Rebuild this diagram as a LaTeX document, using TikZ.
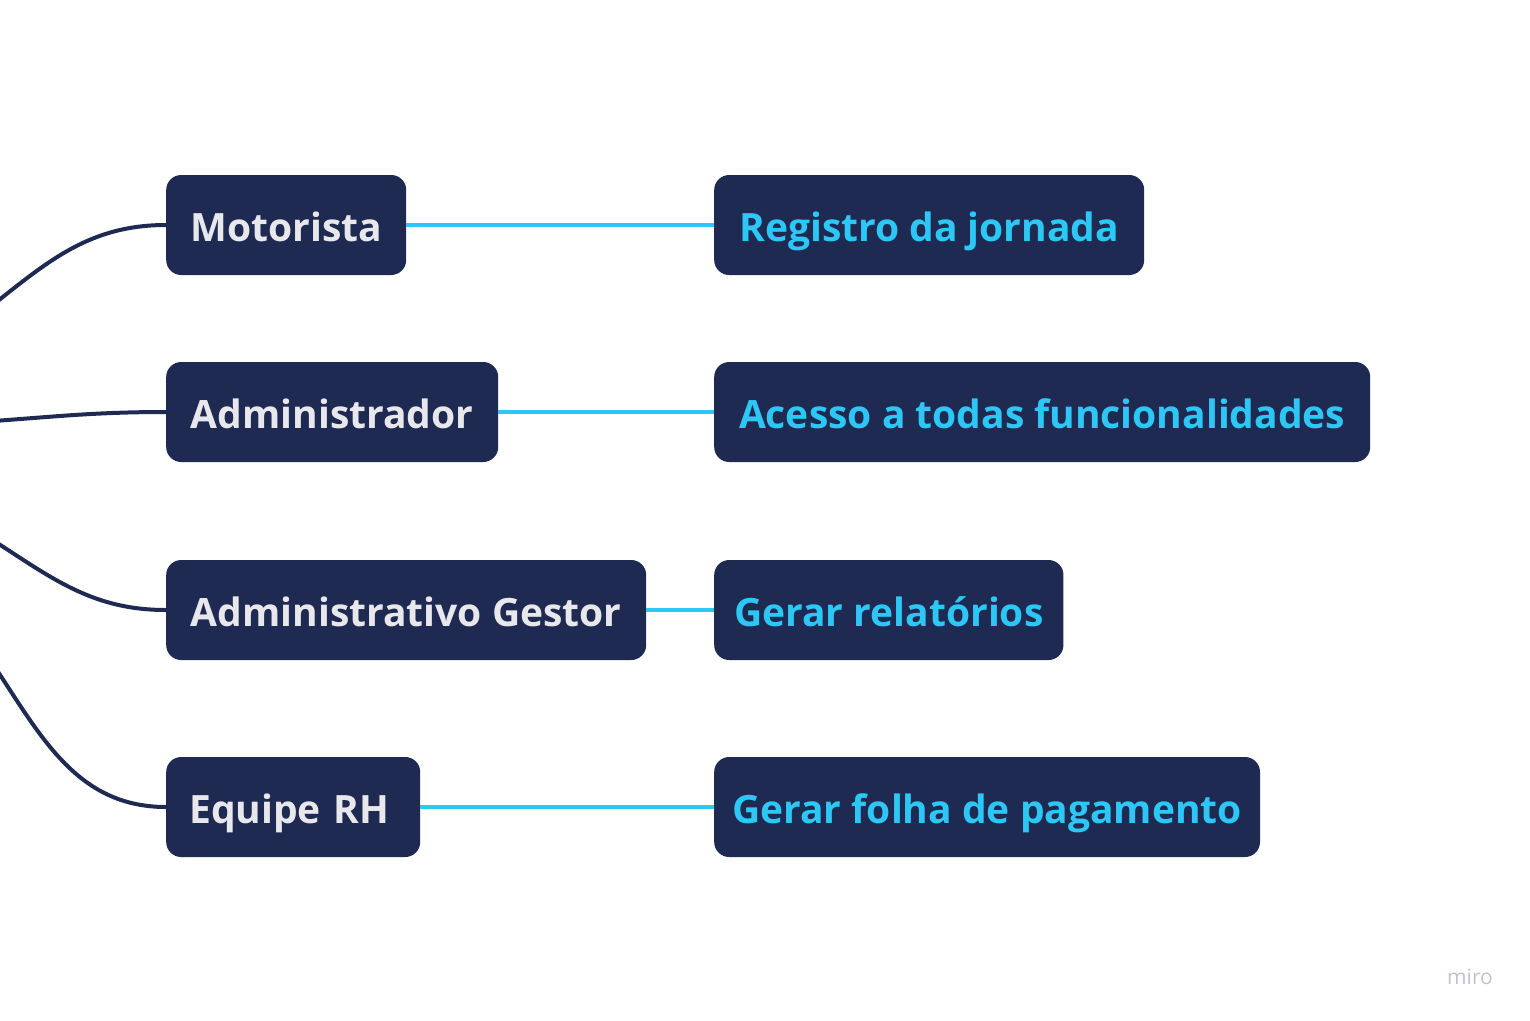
\documentclass[tikz,border=0pt]{standalone}
\usepackage{fontspec}
\setmainfont{Open Sans}
\definecolor{navy}{HTML}{1F2A52}
\definecolor{skyline}{HTML}{2CC7F5}
\definecolor{paleink}{HTML}{E8E8EC}
\definecolor{markgray}{HTML}{BFC2CF}
\begin{document}
\begin{tikzpicture}[x=1pt,y=-1pt,
  role/.style={fill=navy,rounded corners=15pt,minimum height=100pt,inner xsep=23pt,
    text height=32pt,text depth=0pt,anchor=west,text=paleink,
    font=\fontsize{39}{46}\selectfont\bfseries},
  task/.style={role,text=skyline},
  link/.style={skyline,line width=4.5pt},
  branch/.style={navy,line width=4pt}]
  \useasboundingbox (0,0) rectangle (1530,1020);
  \clip (0,0) rectangle (1530,1020);

  % roles
  \node[role,minimum width=240pt] (motorista) at (166,225) {Motorista};
  \node[role,minimum width=332pt] (admin) at (166,412) {Administrador};
  \node[role,minimum width=480pt] (gestor) at (166,610) {Administrativo Gestor};
  \node[role,minimum width=254pt,align=left,text width=208pt] (rh) at (166,807) {Equipe RH};

  % tasks
  \node[task,minimum width=430pt] (jornada) at (714,225) {Registro da jornada};
  \node[task,minimum width=656pt] (acesso) at (714,412) {Acesso a todas funcionalidades};
  \node[task,inner xsep=20pt] (relat) at (714,610) {Gerar relatórios};
  \node[task,inner xsep=18pt] (folha) at (714,807) {Gerar folha de pagamento};

  \draw[link] (motorista) -- (jornada);
  \draw[link] (admin) -- (acesso);
  \draw[link] (gestor) -- (relat);
  \draw[link] (rh) -- (folha);

  % branches coming in from the left edge
  \coordinate (inA) at (-20,315);
  \coordinate (inB) at (-20,422);
  \coordinate (inC) at (-20,532);
  \coordinate (inD) at (-20,645);
  \draw[branch] (inA) to[out=38,in=180] (motorista.west);
  \draw[branch] (inB) to[out=4,in=180] (admin.west);
  \draw[branch] (inC) to[out=-32,in=180] (gestor.west);
  \draw[branch] (inD) to[out=-55,in=180] (rh.west);

  \node[text=markgray,font=\fontsize{21}{24}\selectfont] (miro) at (1470,977) {miro};
\end{tikzpicture}
\end{document}
